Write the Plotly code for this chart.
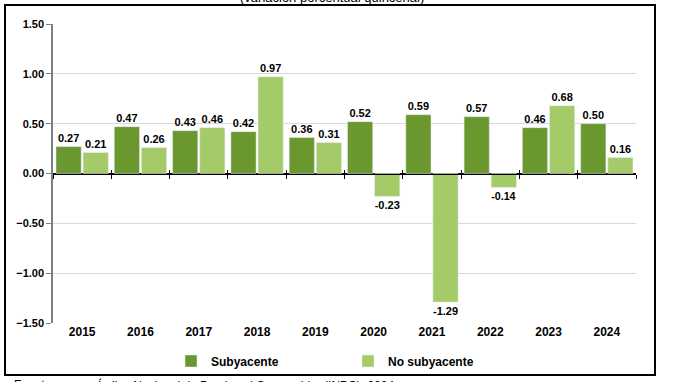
import plotly.graph_objects as go

years = ["2015", "2016", "2017", "2018", "2019", "2020", "2021", "2022", "2023", "2024"]
subyacente = [0.27, 0.47, 0.43, 0.42, 0.36, 0.52, 0.59, 0.57, 0.46, 0.50]
no_subyacente = [0.21, 0.26, 0.46, 0.97, 0.31, -0.23, -1.29, -0.14, 0.68, 0.16]
y_ticks = [1.5, 1.0, 0.5, 0.0, -0.5, -1.0, -1.5]

W, H = 691, 382
L, R, T, B = 53, 636, 24, 323  # plot area in pixels
PW, PH = R - L, B - T


def px_x(p):
    return (p - L) / PW


def px_y(p):
    return (B - p) / PH


FONT = "Arial, Liberation Sans, sans-serif"
DARK = "#6B982E"
LIGHT = "#A5CB69"

fig = go.Figure()
fig.add_trace(go.Bar(
    x=years, y=subyacente, name="Subyacente", marker_color=DARK,
    text=[f"{v:.2f}" for v in subyacente], textposition="outside",
    textfont=dict(family=FONT, size=11, color="black", weight="bold"),
    cliponaxis=False,
))
fig.add_trace(go.Bar(
    x=years, y=no_subyacente, name="No subyacente", marker_color=LIGHT,
    text=[f"{v:.2f}" for v in no_subyacente], textposition="outside",
    textfont=dict(family=FONT, size=11, color="black", weight="bold"),
    cliponaxis=False,
))

n = len(years)
bounds = [i - 0.5 for i in range(n + 1)]

fig.update_layout(
    width=W, height=H,
    margin=dict(l=L, r=W - R, t=T, b=H - B, pad=0, autoexpand=False),
    paper_bgcolor="white", plot_bgcolor="white",
    barmode="group", bargap=0.07, bargroupgap=0.07,
    font=dict(family=FONT, size=11, color="black"),
    showlegend=True,
    legend=dict(
        orientation="h", x=px_x(171), y=px_y(361), xanchor="left", yanchor="middle",
        entrywidth=132, entrywidthmode="pixels",
        font=dict(family=FONT, size=12, color="black", weight="bold"),
        itemwidth=30, bgcolor="rgba(0,0,0,0)",
    ),
    xaxis=dict(
        type="category", showline=False, ticks="", showgrid=False, zeroline=False,
        tickfont=dict(family=FONT, size=12, color="black", weight="bold"),
        range=[-0.5, n - 0.5],
    ),
    xaxis2=dict(
        overlaying="x", anchor="free", position=0.5, type="linear",
        range=[-0.5, n - 0.5], showline=True, linecolor="black", linewidth=1,
        ticks="outside", ticklen=4, tickcolor="black", tickwidth=1,
        tickvals=bounds, showticklabels=False, showgrid=False, zeroline=False,
    ),
    xaxis3=dict(
        overlaying="x", anchor="free", position=0.5, type="linear",
        range=[-0.5, n - 0.5], showline=False,
        ticks="inside", ticklen=4, tickcolor="black", tickwidth=1,
        tickvals=bounds, showticklabels=False, showgrid=False, zeroline=False,
    ),
    yaxis=dict(
        range=[-1.5, 1.5], tickvals=y_ticks, tickformat=".2f",
        showgrid=True, gridcolor="#D9D9D9", gridwidth=1,
        zeroline=True, zerolinecolor="black", zerolinewidth=1,
        showline=True, linecolor="#7F7F7F", linewidth=1.5,
        ticks="outside", ticklen=5, tickcolor="#7F7F7F", tickwidth=1,
        tickfont=dict(family=FONT, size=11, color="black", weight="bold"),
    ),
)

# dummy invisible traces so that the overlay axes are drawn
fig.add_trace(go.Scatter(x=[None], y=[None], xaxis="x2", showlegend=False, hoverinfo="skip"))
fig.add_trace(go.Scatter(x=[None], y=[None], xaxis="x3", showlegend=False, hoverinfo="skip"))

# outer frame
fig.add_shape(type="rect", xref="paper", yref="paper",
              x0=px_x(5), x1=px_x(655), y0=px_y(375), y1=px_y(5),
              line=dict(color="black", width=2), fillcolor="rgba(0,0,0,0)", layer="above")

# partially visible title and source
fig.add_annotation(text="(variación porcentual quincenal)", xref="paper", yref="paper",
                   x=px_x(332), y=px_y(7), xanchor="center", yanchor="bottom",
                   showarrow=False, font=dict(family=FONT, size=13, color="black"))
fig.add_annotation(text="Fuente:", xref="paper", yref="paper",
                   x=px_x(12), y=px_y(376), xanchor="left", yanchor="top",
                   showarrow=False, font=dict(family=FONT, size=12, color="black"))
fig.add_annotation(text="Índice Nacional de Precios al Consumidor (INPC), 2024.", xref="paper", yref="paper",
                   x=px_x(96), y=px_y(376), xanchor="left", yanchor="top",
                   showarrow=False, font=dict(family=FONT, size=12, color="black"))

fig.write_html(
    "out.html",
    config={"displayModeBar": False},
    post_script="document.body.style.margin='0';document.body.style.overflow='hidden';",
)
